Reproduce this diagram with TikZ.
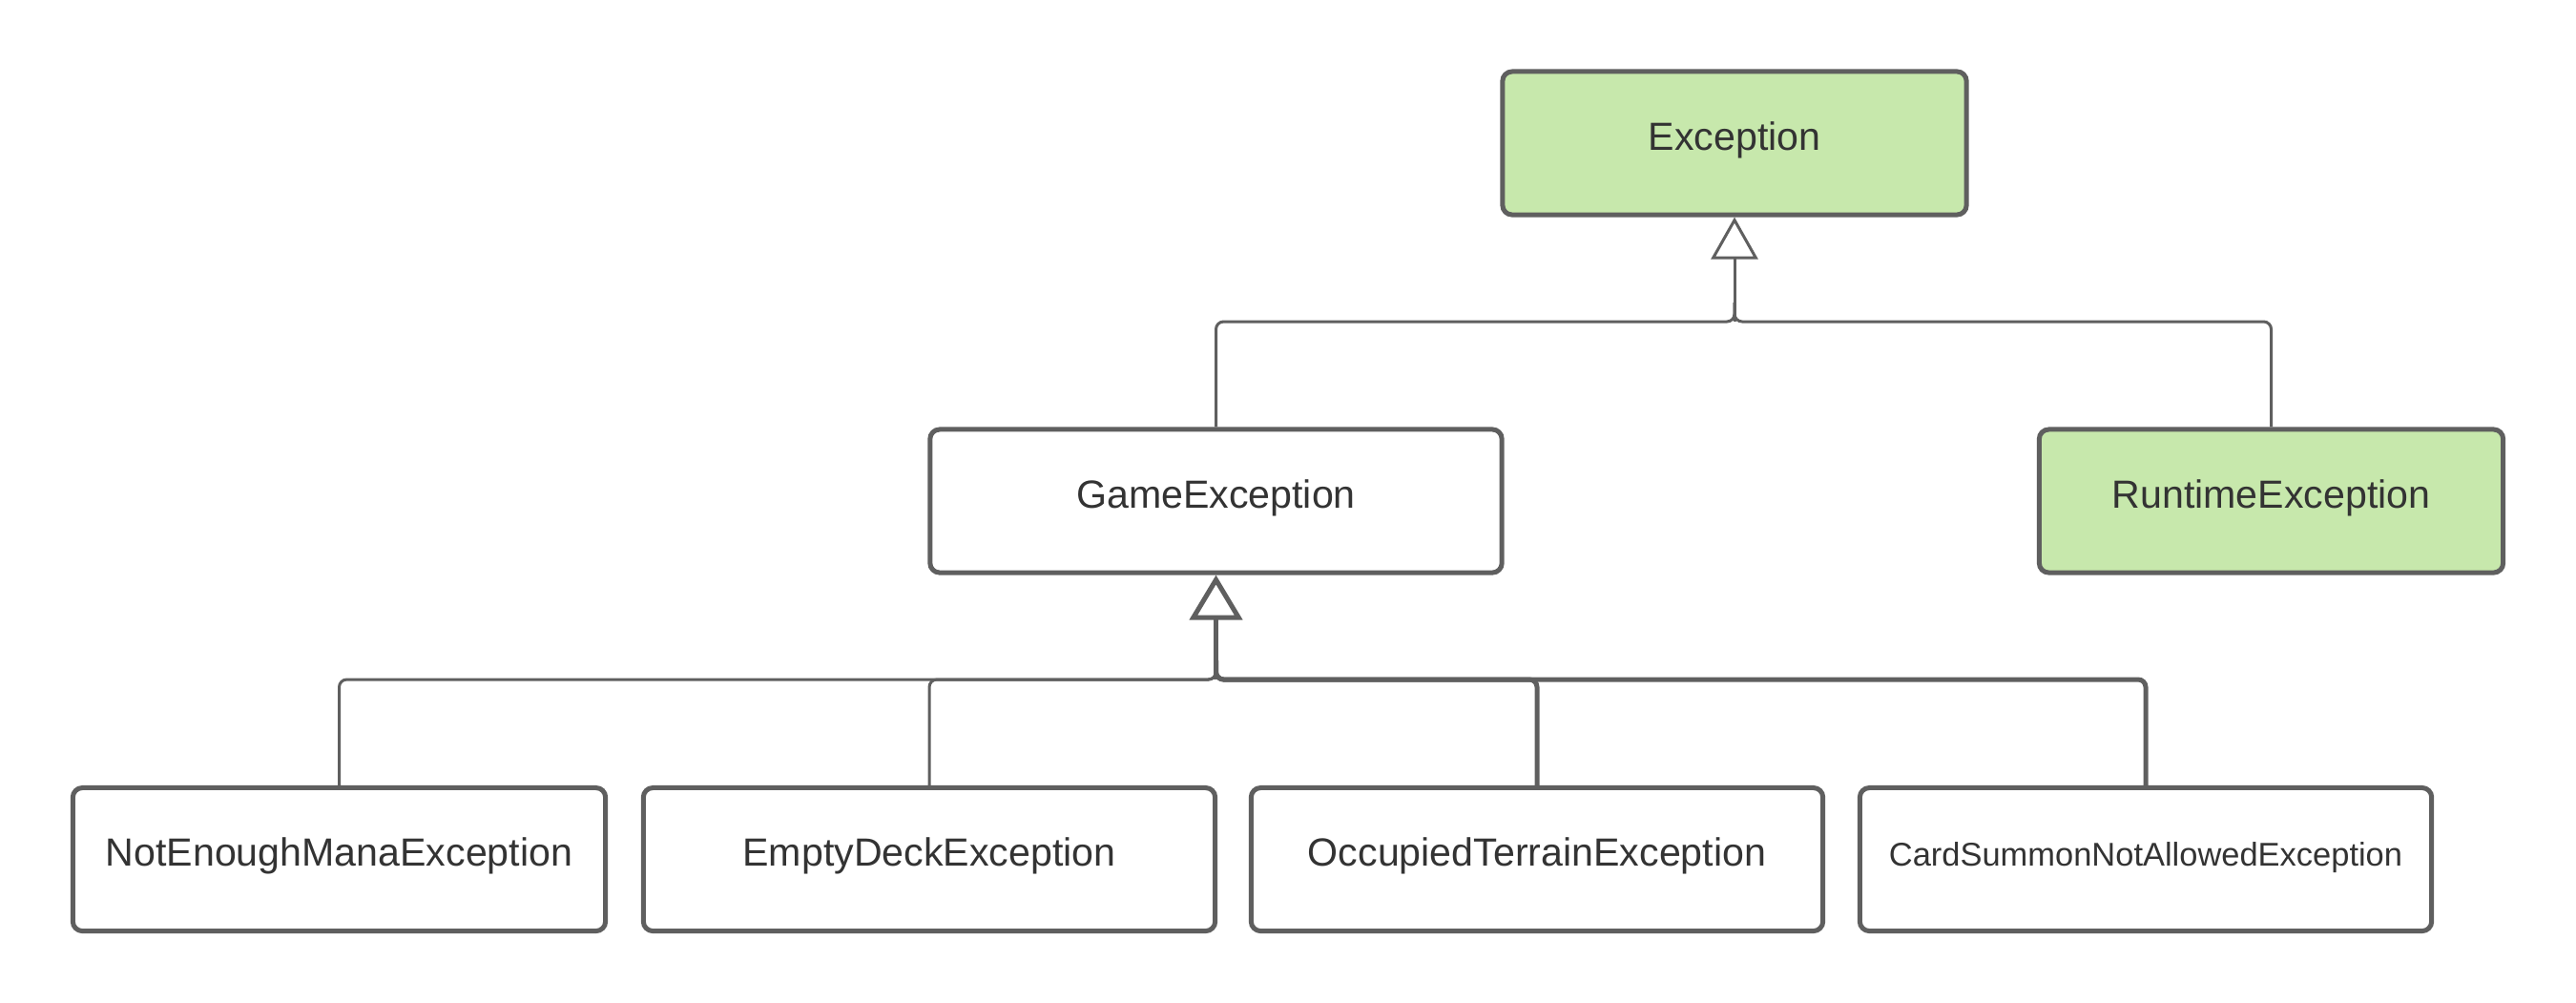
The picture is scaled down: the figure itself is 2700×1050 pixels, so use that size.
\documentclass[tikz,border=0pt]{standalone}
\usepackage{fontspec}
\setmainfont{Liberation Sans}
\usetikzlibrary{arrows.meta}
\definecolor{lc}{HTML}{5F5F5F}
\definecolor{tc}{HTML}{333333}
\definecolor{gfill}{HTML}{C7E8AC}
\begin{document}
\begin{tikzpicture}[x=0.01cm,y=-0.01cm,
  cls/.style={draw=lc, line width=0.05cm, rounded corners=0.1cm,
    minimum height=1.5cm, inner sep=0pt, text=tc,
    text height=0.30cm, text depth=0.16cm,
    font=\fontsize{11.7pt}{14pt}\selectfont},
  wide/.style={cls, minimum width=5.99cm},
  narrow/.style={cls, minimum width=4.86cm, fill=gfill},
  thinline/.style={draw=lc, line width=0.03cm, rounded corners=0.08cm},
  thickline/.style={draw=lc, line width=0.05cm, rounded corners=0.08cm},
  inhtop/.style={thinline, -{Triangle[fill=white, length=0.44cm, width=0.49cm, line width=0.03cm]}},
  inhbot/.style={thickline, -{Triangle[fill=white, length=0.47cm, width=0.55cm, line width=0.05cm]}}
]
\useasboundingbox (0,0) rectangle (2700,1050);

\node[narrow] (exc) at (1818,150) {Exception};
\node[wide]   (gex) at (1274.5,525) {GameException};
\node[narrow] (rte) at (2380.5,525) {RuntimeException};

\node[wide, minimum width=5.58cm] (nem) at (355.5,900.5) {NotEnoughManaException};
\node[wide] (edk) at (974,900.5) {EmptyDeckException};
\node[wide] (otr) at (1611,900.5) {OccupiedTerrainException};
\node[wide, font=\fontsize{9.8pt}{12pt}\selectfont] (csn) at (2249,900.5) {CardSummonNotAllowedException};

\coordinate (j1) at (1818,337);
\coordinate (j2) at (1274.5,712);

\draw[thinline] (gex.north) |- (j1) -- ++(0,-20);
\draw[thinline] (rte.north) |- (j1) -- ++(0,-20);
\draw[inhtop] (j1) -- (exc.south);

\draw[thinline] (nem.north) |- (j2) -- ++(0,-20);
\draw[thinline] (edk.north) |- (j2) -- ++(0,-20);
\draw[thickline] (otr.north) |- (j2) -- ++(0,-20);
\draw[thickline] (csn.north) |- (j2) -- ++(0,-20);
\draw[inhbot] (j2) -- (gex.south);
\end{tikzpicture}
\end{document}
